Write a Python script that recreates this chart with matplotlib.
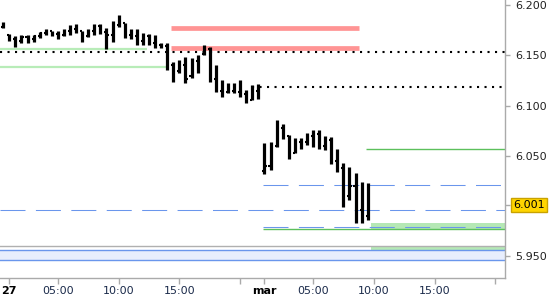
import numpy as np
import matplotlib
matplotlib.use("Agg")
import matplotlib.pyplot as plt
import matplotlib.transforms as mtransforms

# ---------------- data ----------------
# 30-minute OHLC bars; x expressed in "chart hours" (27 = 0, mar = 21)
opens = [6.1780, 6.1700, 6.1660, 6.1640, 6.1680, 6.1660, 6.1690, 6.1720, 6.1740, 6.1710,
         6.1700, 6.1740, 6.1760, 6.1740, 6.1690, 6.1740, 6.1790, 6.1730, 6.1700, 6.1800,
         6.1820, 6.1700, 6.1690, 6.1640, 6.1690, 6.1620, 6.1600, 6.1590, 6.1400, 6.1340,
         6.1400, 6.1290, 6.1440, 6.1510, 6.1560, 6.1260, 6.1150, 6.1140, 6.1150, 6.1140,
         6.1120, 6.1060, 6.1150,
         6.0350, 6.0400, 6.0600, 6.0780, 6.0700, 6.0530, 6.0640, 6.0640, 6.0700, 6.0720,
         6.0600, 6.0660, 6.0450, 6.0380, 6.0100, 6.0200, 5.9960, 5.9900]
highs = [6.1831, 6.1712, 6.1692, 6.1702, 6.1702, 6.1702, 6.1732, 6.1761, 6.1742, 6.1742,
         6.1761, 6.1801, 6.1811, 6.1742, 6.1761, 6.1811, 6.1811, 6.1771, 6.1841, 6.1901,
         6.1821, 6.1761, 6.1761, 6.1722, 6.1712, 6.1702, 6.1622, 6.1622, 6.1433, 6.1453,
         6.1483, 6.1473, 6.1503, 6.1602, 6.1583, 6.1404, 6.1254, 6.1225, 6.1225, 6.1254,
         6.1155, 6.1205, 6.1215,
         6.0631, 6.0638, 6.0857, 6.0817, 6.0708, 6.0678, 6.0678, 6.0731, 6.0757, 6.0757,
         6.0698, 6.0688, 6.0572, 6.0432, 6.0393, 6.0330, 6.0241, 6.0231]
lows = [6.1771, 6.1642, 6.1583, 6.1622, 6.1622, 6.1632, 6.1672, 6.1702, 6.1692, 6.1662,
        6.1692, 6.1702, 6.1722, 6.1632, 6.1682, 6.1702, 6.1712, 6.1563, 6.1632, 6.1781,
        6.1672, 6.1662, 6.1602, 6.1602, 6.1602, 6.1573, 6.1573, 6.1354, 6.1235, 6.1324,
        6.1225, 6.1274, 6.1324, 6.1503, 6.1235, 6.1135, 6.1085, 6.1125, 6.1125, 6.1085,
        6.1026, 6.1056, 6.1066,
        6.0320, 6.0360, 6.0591, 6.0671, 6.0472, 6.0529, 6.0572, 6.0611, 6.0591, 6.0572,
        6.0559, 6.0419, 6.0340, 5.9992, 6.0062, 5.9833, 5.9833, 5.9863]
closes = [6.1800, 6.1660, 6.1640, 6.1680, 6.1660, 6.1690, 6.1720, 6.1740, 6.1710, 6.1700,
          6.1740, 6.1760, 6.1740, 6.1660, 6.1740, 6.1790, 6.1730, 6.1700, 6.1800, 6.1820,
          6.1700, 6.1690, 6.1640, 6.1690, 6.1620, 6.1600, 6.1590, 6.1400, 6.1300, 6.1400,
          6.1260, 6.1440, 6.1480, 6.1560, 6.1260, 6.1150, 6.1120, 6.1150, 6.1140, 6.1120,
          6.1060, 6.1150, 6.1180,
          6.0400, 6.0600, 6.0780, 6.0700, 6.0530, 6.0640, 6.0610, 6.0700, 6.0720, 6.0600,
          6.0660, 6.0450, 6.0380, 6.0040, 6.0200, 5.9960, 5.9900, 6.0010]
first_bar_hour = -0.5
bar_step = 0.5

last_price = 6.001

# horizontal levels
pink_levels = [6.1768, 6.1576]
pink_span = (13.35, 28.75)
dotted_levels = [(6.1536, None), (6.1188, 20.0)]          # (price, start hour)
light_green_levels = [(6.1566, 11.3), (6.1387, 12.9)]      # (price, end hour)
green_thin_levels = [(6.0569, 29.4), (5.9770, 20.9)]       # (price, start hour)
blue_dashed_levels = [(6.0214, 20.9), (5.9959, None), (5.9793, 20.9)]
gray_level = 5.9607
green_boxes = [(29.8, 5.9770, 5.9831), (29.8, 5.9565, 5.9607)]  # (start, lo, hi)
blue_band = (5.9462, 5.9565)

ytick_vals = [6.200, 6.150, 6.100, 6.050, 5.950]
ytick_labels = ["6.200", "6.150", "6.100", "6.050", "5.950"]
xtick_vals = [0, 4, 9, 14, 19, 21, 25, 30, 35, 40]
xtick_labels = ["27", "05:00", "10:00", "15:00", "", "mar", "05:00", "10:00", "15:00", ""]
bold_labels = ["27", "mar"]

# ---------------- figure ----------------
W, H = 550, 300
fig = plt.figure(figsize=(W / 100, H / 100), dpi=100)
ax = fig.add_axes([0, 22 / H, 505 / W, 278 / H])
xmin, xmax = -0.765, 40.8
ax.set_xlim(xmin, xmax)
ax.set_ylim(5.9286, 6.2050)

for s in ["top", "left"]:
    ax.spines[s].set_visible(False)
for s in ["right", "bottom"]:
    ax.spines[s].set_color("#aaaaaa")
    ax.spines[s].set_linewidth(1.0)

blue = "#6a96ec"
# blue band
ax.axhspan(blue_band[0], blue_band[1], color="#e8eefd", zorder=1, lw=0)
for lv in blue_band:
    ax.axhline(lv, color=blue, lw=1.0, zorder=2)
# gray line
ax.axhline(gray_level, color="#b0b0b0", lw=1.0, zorder=2)
# green boxes
for (x0, lo, hi) in green_boxes:
    ax.fill_between([x0, xmax], lo, hi, color="#b5e8b5", lw=0, zorder=1.5)
# thin green lines
for (lv, x0) in green_thin_levels:
    ax.hlines(lv, x0, xmax, color="#5cc05c", lw=1.0, zorder=2)
# light green lines
for (lv, x1) in light_green_levels:
    ax.hlines(lv, xmin, x1, color="#b8ecb8", lw=1.6, zorder=2)
# blue dashed
for (lv, x0) in blue_dashed_levels:
    ax.hlines(lv, xmin if x0 is None else x0, xmax, color=blue, lw=0.75,
              linestyles=[(0, (24, 10))], zorder=2)
# dotted black
for (lv, x0) in dotted_levels:
    ax.hlines(lv, xmin if x0 is None else x0, xmax, color="black", lw=1.5,
              linestyles=[(0, (1, 2.6))], zorder=3)
# pink thick
for lv in pink_levels:
    ax.hlines(lv, pink_span[0], pink_span[1], color="#ff9494", lw=3.4, zorder=2)

# OHLC bars
n = len(opens)
xs = first_bar_hour + bar_step * np.arange(n)
nub = 0.17
ax.vlines(xs, lows, highs, color="black", lw=2.3, zorder=4)
ax.hlines(opens, xs - nub, xs, color="black", lw=1.5, zorder=4)
ax.hlines(closes, xs, xs + nub, color="black", lw=1.5, zorder=4)

# y axis on the right
ax.yaxis.tick_right()
ax.set_yticks(ytick_vals + [last_price])
ax.set_yticklabels(ytick_labels + [""])
ax.tick_params(axis="y", direction="out", length=3.5, width=1, color="#aaaaaa",
               pad=4, labelsize=8, labelcolor="#222222")
ticks = ax.yaxis.get_major_ticks()
ticks[-1].tick2line.set_color("black")

trans = mtransforms.blended_transform_factory(ax.transAxes, ax.transData)
ax.text(1.016, last_price, f"{last_price:.3f}", transform=trans, fontsize=8,
        va="center", ha="left", color="black",
        bbox=dict(boxstyle="square,pad=0.2", facecolor="#ffd500", edgecolor="#c9a200", lw=1))

# x axis
ax.set_xticks(xtick_vals)
ax.set_xticklabels(xtick_labels)
ax.tick_params(axis="x", direction="out", length=4, width=1, color="#aaaaaa",
               pad=2, labelsize=8, labelcolor="#1a2a4a")
for lab in ax.get_xticklabels():
    if lab.get_text() in bold_labels:
        lab.set_fontweight("bold")
        lab.set_color("black")

fig.savefig("out.png", dpi=100)
